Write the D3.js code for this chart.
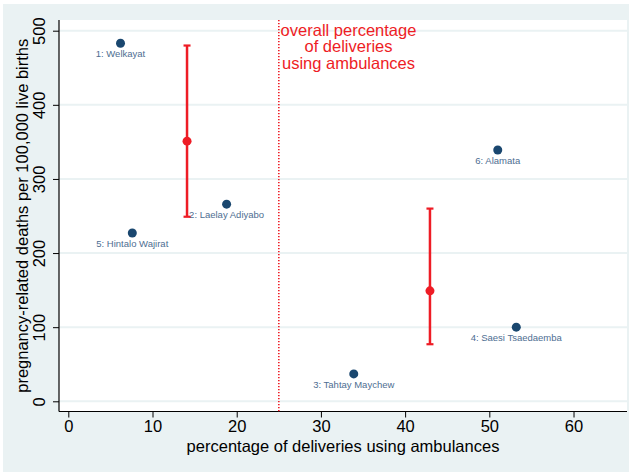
<!DOCTYPE html>
<html>
<head>
<meta charset="utf-8">
<script src="https://cdn.jsdelivr.net/npm/d3@7"></script>
<style>
  html, body { margin: 0; padding: 0; background: #ffffff; }
  svg { display: block; font-family: "Liberation Sans", Arial, sans-serif; }
</style>
</head>
<body>
<svg id="chart" width="629" height="474"></svg>
<script>
// ---- data ----
const districts = ["1: Welkayat", "2: Laelay Adiyabo", "3: Tahtay Maychew", "4: Saesi Tsaedaemba", "5: Hintalo Wajirat", "6: Alamata"];
const pctAmbulance = [6.2, 18.8, 33.9, 53.2, 7.6, 51.0];
const deathRate = [483, 266, 37, 100, 227, 339];

const groupPct = [14.1, 42.95];
const groupMean = [351, 149];
const groupLow = [249, 77];
const groupHigh = [480, 260];

const overallPct = 25;
const xTicks = [0, 10, 20, 30, 40, 50, 60];
const yTicks = [0, 100, 200, 300, 400, 500];
const xTitle = "percentage of deliveries using ambulances";
const yTitle = "pregnancy-related deaths per 100,000 live births";
const noteLines = ["overall percentage", "of deliveries", "using ambulances"];

// ---- layout ----
const svg = d3.select("#chart");
const W = 629, H = 474;
const plot = { left: 59, right: 627, top: 20, bottom: 411.5 };
const navy = "#1a476f", red = "#ee1c25", bg = "#eaf2f3";
const FS = 16.5;

svg.append("rect").attr("x", 3).attr("y", 4).attr("width", W - 3).attr("height", H - 6).attr("fill", bg);
svg.append("rect").attr("x", plot.left).attr("y", plot.top)
  .attr("width", plot.right - plot.left).attr("height", plot.bottom - plot.top).attr("fill", "#ffffff");

const x = d3.scaleLinear().domain([0, 66.35]).range([68.3, plot.right]);
const y = d3.scaleLinear().domain([0, 500]).range([401.3, 30.7]);

// gridlines
svg.append("g").selectAll("line").data(yTicks).join("line")
  .attr("x1", plot.left).attr("x2", plot.right)
  .attr("y1", d => y(d)).attr("y2", d => y(d))
  .attr("stroke", bg).attr("stroke-width", 2);

// axes
const xAxis = svg.append("g").attr("transform", `translate(0,${plot.bottom})`)
  .call(d3.axisBottom(x).tickValues(xTicks).tickSize(6).tickPadding(3).tickSizeOuter(0));
xAxis.select(".domain").attr("d", `M${plot.left},0H${plot.right}`).attr("stroke", "#000").attr("stroke-width", 1.2);
xAxis.selectAll(".tick line").attr("stroke", "#000");
xAxis.selectAll(".tick text").attr("font-size", FS).attr("fill", "#000")
  .attr("font-family", "Liberation Sans, Arial, sans-serif");

const yAxis = svg.append("g").attr("transform", `translate(${plot.left},0)`)
  .call(d3.axisLeft(y).tickValues(yTicks).tickSize(6).tickSizeOuter(0));
yAxis.select(".domain").attr("d", `M0,${plot.top}V${plot.bottom}`).attr("stroke", "#000").attr("stroke-width", 1.2);
yAxis.selectAll(".tick line").attr("stroke", "#000");
yAxis.selectAll(".tick text")
  .attr("x", null).attr("dy", null)
  .attr("transform", "translate(-20,0) rotate(-90)")
  .attr("text-anchor", "middle").attr("dy", "0.35em")
  .attr("font-size", FS).attr("fill", "#000")
  .attr("font-family", "Liberation Sans, Arial, sans-serif");

// axis titles
svg.append("text").attr("x", (plot.left + plot.right) / 2).attr("y", 452)
  .attr("text-anchor", "middle").attr("font-size", FS).attr("fill", "#000").text(xTitle);
svg.append("text").attr("transform", `translate(28,${(plot.top + plot.bottom) / 2}) rotate(-90)`)
  .attr("text-anchor", "middle").attr("font-size", FS).attr("fill", "#000").text(yTitle);

// overall reference line
svg.append("line").attr("x1", x(overallPct)).attr("x2", x(overallPct))
  .attr("y1", plot.top).attr("y2", plot.bottom)
  .attr("stroke", red).attr("stroke-width", 1.6).attr("stroke-dasharray", "1.2,1.8");

svg.append("g").selectAll("text").data(noteLines).join("text")
  .attr("x", 348.5).attr("y", (d, i) => 35.5 + i * 16.5)
  .attr("text-anchor", "middle").attr("font-size", FS).attr("fill", red).text(d => d);

// district points
const pts = districts.map((d, i) => ({ name: d, px: pctAmbulance[i], dy: deathRate[i] }));
svg.append("g").selectAll("circle").data(pts).join("circle")
  .attr("cx", d => x(d.px)).attr("cy", d => y(d.dy)).attr("r", 4.5).attr("fill", navy);
svg.append("g").selectAll("text").data(pts).join("text")
  .attr("x", d => x(d.px)).attr("y", d => y(d.dy) + 14)
  .attr("text-anchor", "middle").attr("font-size", 9.5).attr("fill", "#4e6e92").text(d => d.name);

// group means with ranges
const grp = groupPct.map((p, i) => ({ p, m: groupMean[i], lo: groupLow[i], hi: groupHigh[i] }));
const g = svg.append("g");
g.selectAll("line.v").data(grp).join("line").attr("class", "v")
  .attr("x1", d => x(d.p)).attr("x2", d => x(d.p))
  .attr("y1", d => y(d.lo)).attr("y2", d => y(d.hi))
  .attr("stroke", red).attr("stroke-width", 2.5);
g.selectAll("line.top").data(grp).join("line").attr("class", "top")
  .attr("x1", d => x(d.p) - 3.5).attr("x2", d => x(d.p) + 3.5)
  .attr("y1", d => y(d.hi)).attr("y2", d => y(d.hi))
  .attr("stroke", red).attr("stroke-width", 2.2);
g.selectAll("line.bot").data(grp).join("line").attr("class", "bot")
  .attr("x1", d => x(d.p) - 3.5).attr("x2", d => x(d.p) + 3.5)
  .attr("y1", d => y(d.lo)).attr("y2", d => y(d.lo))
  .attr("stroke", red).attr("stroke-width", 2.2);
g.selectAll("circle").data(grp).join("circle")
  .attr("cx", d => x(d.p)).attr("cy", d => y(d.m)).attr("r", 4.5).attr("fill", red);
</script>
</body>
</html>
